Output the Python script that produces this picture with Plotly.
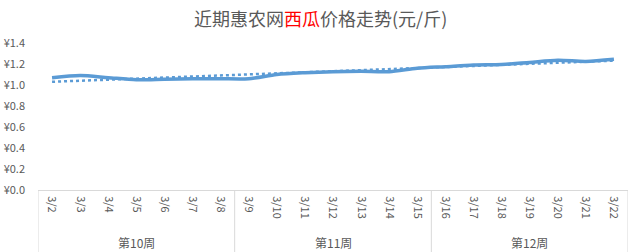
import numpy as np
import plotly.graph_objects as go

dates = ["3/2", "3/3", "3/4", "3/5", "3/6", "3/7", "3/8", "3/9", "3/10", "3/11", "3/12",
         "3/13", "3/14", "3/15", "3/16", "3/17", "3/18", "3/19", "3/20", "3/21", "3/22"]
prices = [1.07, 1.09, 1.07, 1.05, 1.055, 1.06, 1.06, 1.06, 1.10, 1.117, 1.127,
          1.13, 1.127, 1.16, 1.175, 1.19, 1.195, 1.215, 1.235, 1.225, 1.245]
weeks = ["第10周", "第11周", "第12周"]
week_sizes = [7, 7, 7]

# linear trendline (least squares on the data, as in the original chart)
idx = np.arange(len(prices))
slope, intercept = np.polyfit(idx, prices, 1)
trend = (slope * idx + intercept).tolist()

font_family = "Noto Sans CJK SC"
gray = "#595959"
blue = "#5B9BD5"

fig = go.Figure()
fig.add_trace(go.Scatter(x=dates, y=prices, mode="lines",
                         line=dict(color=blue, width=3.5, shape="spline", smoothing=0.8),
                         showlegend=False))
fig.add_trace(go.Scatter(x=dates, y=trend, mode="lines", line=dict(color=blue, width=2.5, dash="dot"),
                         showlegend=False))

shapes = []
annotations = [dict(x=(320 - 38) / 590, y=(252 - 18 - 62) / 147, xref="paper", yref="paper",
                    text='近期惠农网<span style="color:#FF0000">西瓜</span>价格走势(元/斤)',
                    showarrow=False, yanchor="middle", xanchor="center",
                    font=dict(size=18, color=gray, family=font_family))]
pos = -0.5
boundaries = [pos]
for w, n in zip(weeks, week_sizes):
    center = pos + n / 2
    annotations.append(dict(x=center, y=-0.355, xref="x", yref="paper", text=w, showarrow=False,
                            font=dict(size=12, color=gray, family=font_family), yanchor="middle"))
    pos += n
    boundaries.append(pos)
for b in boundaries:
    shapes.append(dict(type="line", xref="x", yref="paper", x0=b, x1=b, y0=0, y1=-0.43,
                       line=dict(color="#D9D9D9", width=1)))

fig.update_layout(
    width=640, height=252,
    margin=dict(l=38, r=12, t=43, b=62, autoexpand=False),
    paper_bgcolor="white", plot_bgcolor="white",
    font=dict(family=font_family, color=gray),
    shapes=shapes,
    annotations=annotations,
)

fig.update_xaxes(type="category", range=[-0.5, 20.5], tickangle=90, showgrid=False,
                 showline=True, linecolor="#D9D9D9", linewidth=1, ticks="", automargin=False,
                 ticklabelstandoff=3,
                 tickfont=dict(size=11, color=gray, family=font_family), fixedrange=True)
fig.update_yaxes(range=[0, 1.4], dtick=0.2, tickprefix="¥", tickformat=".1f", showgrid=False,
                 zeroline=False, showline=False, ticks="", ticklabelstandoff=12, automargin=False,
                 tickfont=dict(size=11, color=gray, family=font_family), fixedrange=True)

fig.write_html("out.html")
